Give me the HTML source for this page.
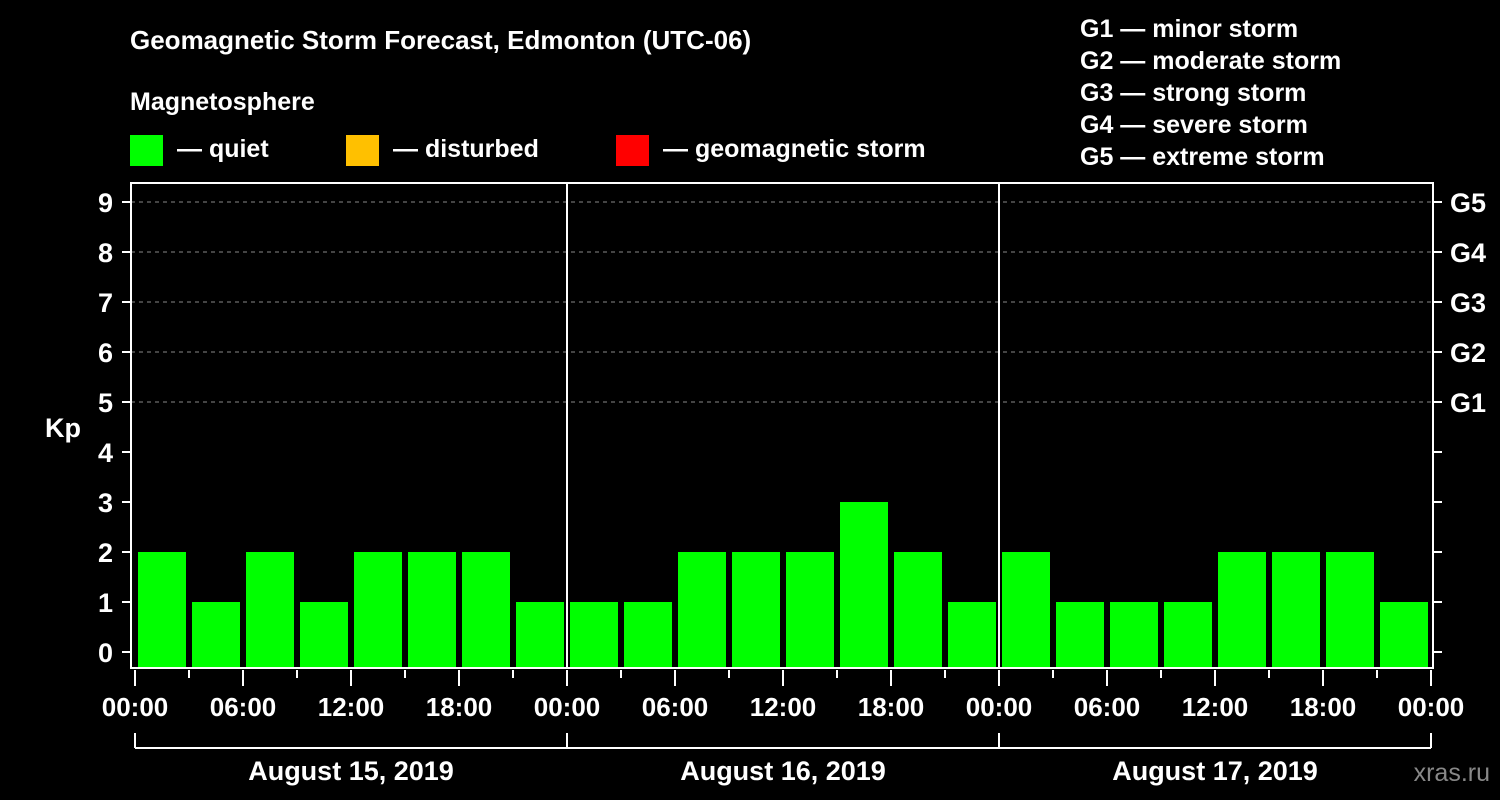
<!DOCTYPE html>
<html><head><meta charset="utf-8"><style>
html,body{margin:0;padding:0;background:#000;}
svg{display:block;font-family:"Liberation Sans",Arial,sans-serif;font-weight:bold;}
</style></head><body>
<svg id="chart" width="1500" height="800" viewBox="0 0 1500 800">
<rect width="1500" height="800" fill="#000"/>
<text x="130" y="49" fill="#fff" font-size="26">Geomagnetic Storm Forecast, Edmonton (UTC-06)</text>
<text x="130" y="110" fill="#fff" font-size="25">Magnetosphere</text>
<g><rect x="130" y="135" width="33" height="31" fill="#00ff00"/><text x="177" y="157" fill="#fff" font-size="25">— quiet</text></g>
<g><rect x="346" y="135" width="33" height="31" fill="#ffc000"/><text x="393" y="157" fill="#fff" font-size="25">— disturbed</text></g>
<g><rect x="616" y="135" width="33" height="31" fill="#ff0000"/><text x="663" y="157" fill="#fff" font-size="25">— geomagnetic storm</text></g>
<g fill="#fff" font-size="25">
<text x="1080" y="37">G1 — minor storm</text>
<text x="1080" y="69">G2 — moderate storm</text>
<text x="1080" y="101">G3 — strong storm</text>
<text x="1080" y="133">G4 — severe storm</text>
<text x="1080" y="165">G5 — extreme storm</text>
</g>
<text x="63" y="437" fill="#fff" font-size="27" text-anchor="middle">Kp</text>
<text x="1490" y="781" fill="#888" font-size="25" text-anchor="end" font-weight="normal">xras.ru</text>
<g id="grid"></g><g id="bars"></g><g id="axes"></g>
</svg>
<script>
const kpValues = [2,1,2,1,2,2,2,1, 1,1,2,2,2,3,2,1, 2,1,1,1,2,2,2,1];
const dayLabels = ["August 15, 2019","August 16, 2019","August 17, 2019"];
const hourLabels = ["00:00","06:00","12:00","18:00"];
const yTicks = [0,1,2,3,4,5,6,7,8,9];
const gLabels = ["G1","G2","G3","G4","G5"];
const NS="http://www.w3.org/2000/svg";
const L=131,R=1433,T=183,B=668,X0=135,DAY=432;
const y=v=>652-50*v;
const x=h=>X0+h*DAY/24;
function mk(tag,attrs,parent,txt){const e=document.createElementNS(NS,tag);for(const k in attrs)e.setAttribute(k,attrs[k]);if(txt!==undefined)e.textContent=txt;parent.appendChild(e);return e;}
const grid=document.getElementById('grid'),bars=document.getElementById('bars'),axes=document.getElementById('axes');
// gridlines for G levels
gLabels.forEach((g,i)=>{const v=5+i;
 const ln=mk('line',{x1:L,x2:R,y1:y(v),y2:y(v),stroke:'#888','stroke-dasharray':'4,4','stroke-width':1},grid);
 
 
 const t=mk('text',{x:1450,y:y(v)+10,fill:'#fff','font-size':27},axes,g);
 
 
});
kpValues.forEach((v,i)=>{
 const c=v>=5?'#ff0000':(v>=4?'#ffc000':'#00ff00');
 const r=mk('rect',{x:x(i*3)+3,y:y(v),width:48,height:B-y(v),fill:c},bars);
 
 
});
// day separators
for(let d=1;d<3;d++){const s=mk('line',{x1:x(d*24),x2:x(d*24),y1:T,y2:B,stroke:'#fff','stroke-width':2},axes);
 
 }
const box=mk('rect',{x:L,y:T,width:R-L,height:B-T,fill:'none',stroke:'#fff','stroke-width':2},axes);


yTicks.forEach(v=>{
 mk('line',{x1:122,x2:L,y1:y(v),y2:y(v),stroke:'#fff','stroke-width':2},axes);
 mk('line',{x1:R,x2:1442,y1:y(v),y2:y(v),stroke:'#fff','stroke-width':2},axes);
 const t=mk('text',{x:113,y:y(v)+10,fill:'#fff','font-size':27,'text-anchor':'end'},axes,String(v));
 
 
});
for(let h=0;h<=72;h+=3){const major=h%6===0;
 mk('line',{x1:x(h),x2:x(h),y1:B+2,y2:major?686:678,stroke:'#fff','stroke-width':2},axes);
 if(major&&h%6===0&&(h%24)%6===0){const lbl=hourLabels[(h%24)/6];
  const t=mk('text',{x:x(h),y:716,fill:'#fff','font-size':26,'text-anchor':'middle'},axes,lbl);
  
  }
}
mk('line',{x1:x(0),x2:x(72),y1:748,y2:748,stroke:'#fff','stroke-width':2},axes);
for(let d=0;d<=3;d++)mk('line',{x1:x(d*24),x2:x(d*24),y1:733,y2:748,stroke:'#fff','stroke-width':2},axes);
dayLabels.forEach((dl,i)=>{const t=mk('text',{x:x(i*24+12),y:780,fill:'#fff','font-size':27,'text-anchor':'middle'},axes,dl);
 
 });
</script>
</body></html>
